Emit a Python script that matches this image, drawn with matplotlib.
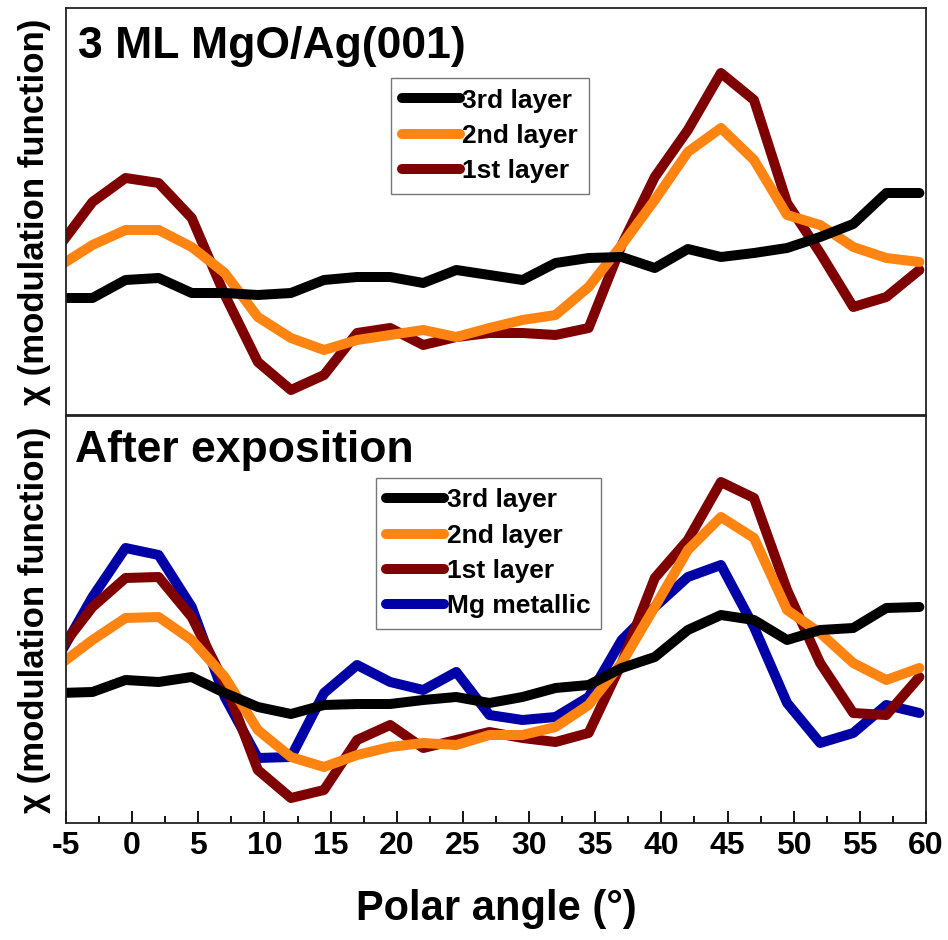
import numpy as np
import matplotlib
matplotlib.use("Agg")
import matplotlib.pyplot as plt
from matplotlib.ticker import MultipleLocator, NullLocator

plt.rcParams["font.family"] = ["Liberation Sans", "DejaVu Sans"]
plt.rcParams["font.weight"] = "bold"
plt.rcParams["axes.unicode_minus"] = False

# polar angles (deg), step 2.5 starting just outside the axis
angle = [-5.5, -3, -0.5, 2, 4.5, 7, 9.5, 12, 14.5, 17, 19.5, 22, 24.5, 27,
         29.5, 32, 34.5, 37, 39.5, 42, 44.5, 47, 49.5, 52, 54.5, 57, 59.5]

# chi (arb. units) - 3 ML MgO/Ag(001)
top_3rd = [117, 117, 135, 137, 122, 122, 120, 122, 135, 138, 138, 132, 145, 140,
           135, 152, 157, 158, 147, 166, 158, 162, 167, 178, 191, 222, 222]
top_2nd = [149, 170, 185, 185, 168, 142, 98, 77, 65, 75, 80, 85, 78, 87,
           95, 100, 128, 170, 215, 263, 287, 255, 200, 190, 168, 157, 153]
top_1st = [169, 213, 237, 232, 197, 120, 53, 25, 40, 82, 87, 70, 78, 82,
           82, 80, 87, 170, 238, 285, 342, 315, 212, 162, 108, 118, 145]

# chi (arb. units) - after exposition
bot_3rd = [130, 131, 143, 141, 146, 130, 116, 109, 118, 119, 119, 123, 126, 120,
           126, 135, 138, 155, 166, 193, 208, 203, 183, 193, 195, 215, 216]
bot_2nd = [158, 183, 205, 206, 183, 146, 93, 66, 56, 68, 76, 80, 78, 88,
           88, 96, 118, 160, 216, 273, 306, 285, 213, 190, 160, 143, 155]
bot_1st = [173, 216, 245, 246, 206, 140, 53, 25, 33, 83, 98, 75, 83, 91,
           85, 81, 90, 160, 245, 283, 341, 325, 233, 160, 110, 108, 146]
bot_mg = [168, 226, 275, 268, 216, 126, 65, 66, 130, 158, 141, 133, 151, 108,
          103, 106, 126, 183, 216, 246, 258, 196, 120, 80, 90, 118, 110]

c_3rd = "#000000"
c_2nd = "#FF8412"
c_1st = "#7E0000"
c_mg = "#0000A6"

fig = plt.figure(figsize=(9.48, 9.40), dpi=100)
ax1 = fig.add_axes([66 / 948, 1 - 415 / 940, 860 / 948, 407 / 940])
ax2 = fig.add_axes([66 / 948, 1 - 823 / 940, 860 / 948, 407 / 940])

lw = 7.2
line_kw = dict(linewidth=lw, solid_joinstyle="round", solid_capstyle="round")

ax1.plot(angle, top_1st, color=c_1st, label="1st layer", **line_kw)
ax1.plot(angle, top_2nd, color=c_2nd, label="2nd layer", **line_kw)
ax1.plot(angle, top_3rd, color=c_3rd, label="3rd layer", **line_kw)

ax2.plot(angle, bot_mg, color=c_mg, label="Mg metallic", **line_kw)
ax2.plot(angle, bot_1st, color=c_1st, label="1st layer", **line_kw)
ax2.plot(angle, bot_2nd, color=c_2nd, label="2nd layer", **line_kw)
ax2.plot(angle, bot_3rd, color=c_3rd, label="3rd layer", **line_kw)

for ax in (ax1, ax2):
    ax.set_xlim(-5, 60)
    ax.set_ylim(0, 407)
    ax.yaxis.set_major_locator(NullLocator())
    for sp in ax.spines.values():
        sp.set_linewidth(1.3)
        sp.set_color("#222222")
    ax.set_ylabel("χ (modulation function)", fontsize=25, fontweight="bold")
    ax.yaxis.set_label_coords(-0.017, 0.5)

ax1.xaxis.set_major_locator(NullLocator())
ax1.tick_params(axis="x", which="both", length=0, labelbottom=False)

ax2.xaxis.set_major_locator(MultipleLocator(5))
ax2.xaxis.set_minor_locator(MultipleLocator(2.5))
ax2.tick_params(axis="x", which="major", direction="in", length=9, width=1.3,
                labelsize=23, pad=6)
ax2.tick_params(axis="x", which="minor", direction="in", length=5, width=1.3)
for lab in ax2.get_xticklabels():
    lab.set_fontweight("bold")
ax2.set_xlabel("Polar angle (°)", fontsize=30, fontweight="bold", labelpad=20)

ax1.text(0.014, 0.877, "3 ML MgO/Ag(001)", transform=ax1.transAxes,
         fontsize=32, fontweight="bold", va="baseline", ha="left")
ax2.text(0.011, 0.887, "After exposition", transform=ax2.transAxes,
         fontsize=32, fontweight="bold", va="baseline", ha="left")

leg_kw = dict(loc="upper left", frameon=True, fancybox=False, borderaxespad=0,
              handlelength=2.2, handletextpad=0.1, labelspacing=0.43,
              borderpad=0.4, prop={"size": 19, "weight": "bold"})

h1, l1 = ax1.get_legend_handles_labels()
leg1 = ax1.legend(h1[::-1], l1[::-1], bbox_to_anchor=(0.378, 0.828), **leg_kw)
h2, l2 = ax2.get_legend_handles_labels()
order = [3, 2, 1, 0]
leg2 = ax2.legend([h2[i] for i in order], [l2[i] for i in order],
                  bbox_to_anchor=(0.360, 0.848), **leg_kw)
for leg in (leg1, leg2):
    leg.get_frame().set_edgecolor("#555555")
    leg.get_frame().set_linewidth(1.0)

fig.savefig("out.png", dpi=100)
